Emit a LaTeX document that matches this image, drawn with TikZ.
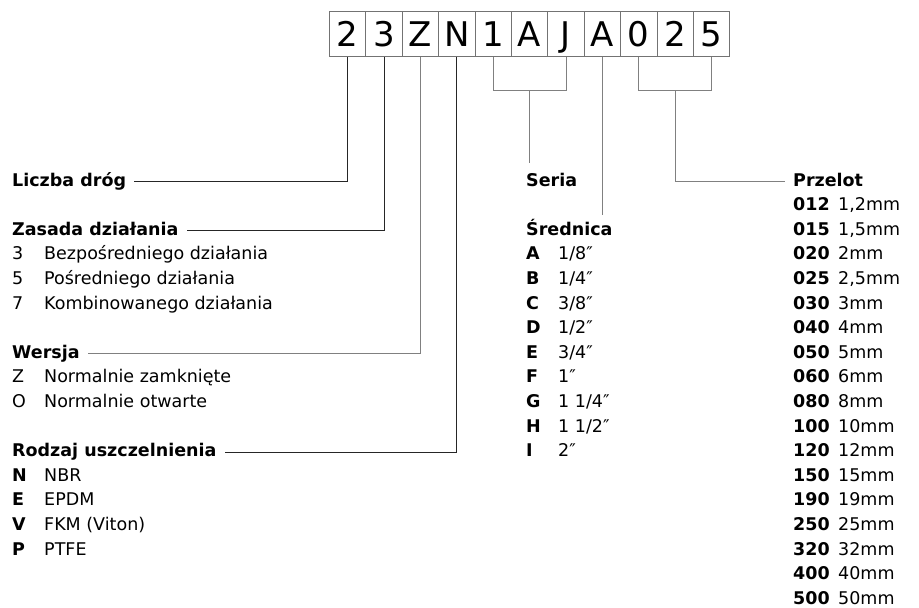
\documentclass[tikz,border=0pt]{standalone}
\usepackage{fontspec}
\setmainfont{DejaVu Sans}
\usetikzlibrary{calc}

\tikzset{
  digit/.style={draw=black!55, line width=0.8pt, anchor=north west, inner sep=0pt,
    minimum width=36.4pt, minimum height=45pt, text height=26pt, text depth=0pt,
    font=\fontsize{34}{34}\selectfont},
  head/.style={anchor=base west, inner sep=0pt, text height=13pt, text depth=4pt,
    font=\fontsize{17.5}{20}\selectfont\bfseries},
  item/.style={anchor=base west, inner sep=0pt, font=\fontsize{17.5}{20}\selectfont},
  code/.style={item, font=\fontsize{17.5}{20}\selectfont\bfseries},
  lead/.style={draw=black!85, line width=0.9pt},
  greylead/.style={draw=black!50, line width=0.9pt}
}

\begin{document}
\begin{tikzpicture}[x=1pt, y=-1pt]
    \useasboundingbox (0,0) rectangle (919,608);

    % the code boxes
    \foreach \c [count=\i] in {2,3,Z,N,1,A,J,A,0,2,5}
        \node[digit] (b\i) at ({329+36.4*(\i-1)}, 11) {\c};

    % left column
    \node[head] (liczba) at (12, 186) {Liczba dróg};
    \node[head] (zasada) at (12, {186+24.6*2}) {Zasada działania};
    \foreach \k/\c/\t in {3/3/Bezpośredniego działania, 4/5/Pośredniego działania, 5/7/Kombinowanego działania} {
        \node[item] (zc\k) at (12, {186+24.6*\k}) {\c};
        \node[item] (zt\k) at (44, {186+24.6*\k}) {\t};
    }
    \node[head] (wersja) at (12, {186+24.6*7}) {Wersja};
    \foreach \k/\c/\t in {8/Z/Normalnie zamknięte, 9/O/Normalnie otwarte} {
        \node[item] (wc\k) at (12, {186+24.6*\k}) {\c};
        \node[item] (wt\k) at (44, {186+24.6*\k}) {\t};
    }
    \node[head] (rodzaj) at (12, {186+24.6*11}) {Rodzaj uszczelnienia};
    \foreach \k/\c/\t in {12/N/NBR, 13/E/EPDM, 14/V/FKM (Viton), 15/P/PTFE} {
        \node[code] (rc\k) at (12, {186+24.6*\k}) {\c};
        \node[item] (rt\k) at (44, {186+24.6*\k}) {\t};
    }

    % middle column
    \node[head] (seria) at (526, 186) {Seria};
    \node[head] (srednica) at (526, {186+24.6*2}) {Średnica};
    \foreach \k/\c/\t in {3/A/{1/8″}, 4/B/{1/4″}, 5/C/{3/8″}, 6/D/{1/2″}, 7/E/{3/4″},
        8/F/{1″}, 9/G/{1 1/4″}, 10/H/{1 1/2″}, 11/I/{2″}} {
        \node[code] (sc\k) at (526, {186+24.6*\k}) {\c};
        \node[item] (st\k) at (558, {186+24.6*\k}) {\t};
    }

    % right column
    \node[head] (przelot) at (793, 186) {Przelot};
    \foreach \c/\t [count=\k] in {012/{1,2mm}, 015/{1,5mm}, 020/2mm, 025/{2,5mm}, 030/3mm, 040/4mm,
        050/5mm, 060/6mm, 080/8mm, 100/10mm, 120/12mm, 150/15mm, 190/19mm, 250/25mm,
        320/32mm, 400/40mm, 500/50mm} {
        \node[code] (pc\k) at (793, {186+24.6*\k}) {\c};
        \node[item] (pt\k) at (838, {186+24.6*\k}) {\t};
    }

    % connectors
    \draw[lead] (b1.south) |- ([xshift=8pt]liczba.east);
    \draw[lead] (b2.south) |- ([xshift=8pt]zasada.east);
    \draw[greylead] (b3.south) |- ([xshift=8pt]wersja.east);
    \draw[lead] (b4.south) |- ([xshift=8pt]rodzaj.east);

    \coordinate (serbr) at ($(b5.south)!0.5!(b7.south) + (0,34)$);
    \draw[greylead] (b5.south) -- ++(0,34) -| (b7.south);
    \draw[greylead, shorten >=10pt] (serbr) -- (serbr |- seria.north);
    \draw[greylead, shorten >=7pt] (b8.south) -- (b8.south |- srednica.north);

    \coordinate (przbr) at ($(b9.south)!0.5!(b11.south) + (0,34)$);
    \draw[greylead] (b9.south) -- ++(0,34) -| (b11.south);
    \draw[greylead] (przbr) |- ([xshift=-8pt]przelot.west);
\end{tikzpicture}
\end{document}
